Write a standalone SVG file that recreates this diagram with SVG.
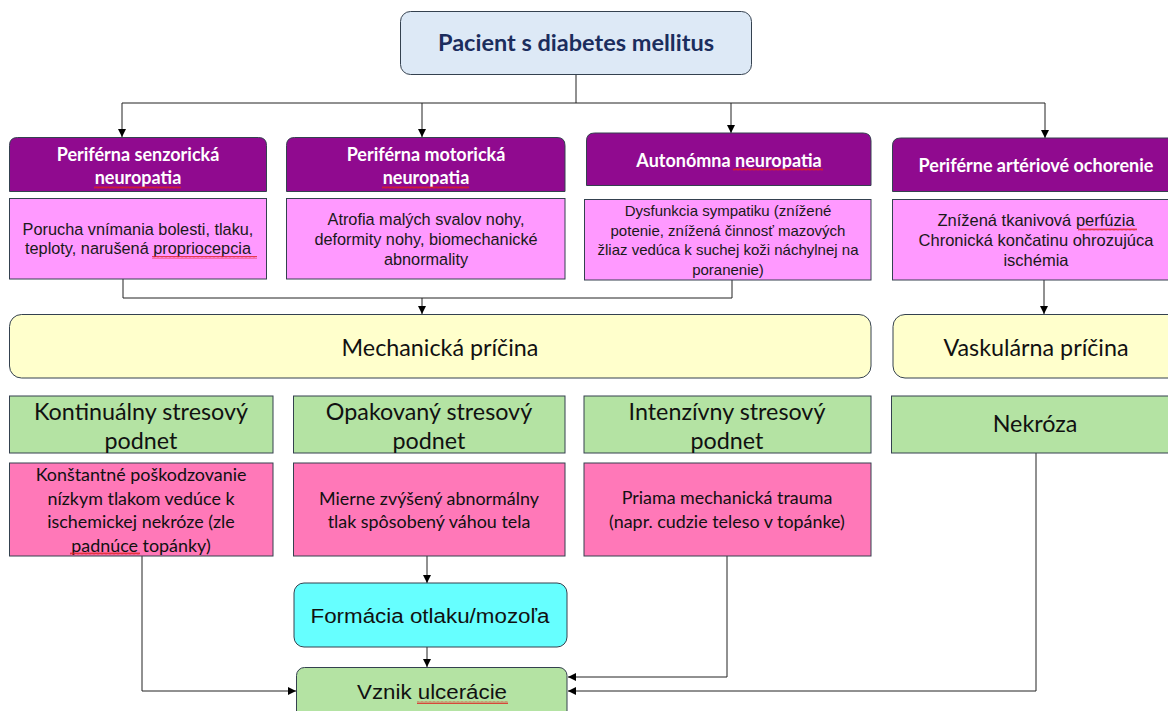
<svg xmlns="http://www.w3.org/2000/svg" width="1168" height="711" viewBox="0 0 1168 711">
<defs>
<marker id="arr" viewBox="0 0 10 10" refX="10" refY="5" markerWidth="8" markerHeight="8" markerUnits="userSpaceOnUse" orient="auto">
<path d="M0,0 L10,5 L0,10 Z" fill="#000"/>
</marker>
<pattern id="sq" x="0" y="0" width="4" height="3" patternUnits="userSpaceOnUse">
<path d="M0,2.5 L1,0.5 L2,2.5 L3,0.5 L4,2.5" fill="none" stroke="#e02020" stroke-width="0.8"/>
</pattern>
<style>
.box{stroke:#34414f;stroke-width:1}
.top{fill:#dde9f6}
.pur{fill:#900a8f}
.lp{fill:#ff99ff}
.yel{fill:#ffffcc}
.grn{fill:#b4e3a3}
.hp{fill:#ff78b8}
.cy{fill:#66ffff}
.tw{font-family:Lato,"Liberation Sans",sans-serif;font-weight:bold;font-size:18px;fill:#fff;text-anchor:middle}
.ta{font-family:"Liberation Sans",Arial,sans-serif;font-size:16.3px;fill:#1a1a1a;text-anchor:middle}
.ts{font-family:"Liberation Sans",Arial,sans-serif;font-size:15px;fill:#1a1a1a;text-anchor:middle}
.tc{font-family:Lato,"Liberation Sans",sans-serif;font-size:23.3px;fill:#111;text-anchor:middle}
.tm{font-family:Lato,"Liberation Sans",sans-serif;font-size:17.9px;fill:#111;text-anchor:middle}
.tn{font-family:"Liberation Sans",Arial,sans-serif;font-size:20px;fill:#111;text-anchor:middle}
.ln{fill:none;stroke:#222;stroke-width:1}
.sq{fill:url(#sq)}
</style>
</defs>
<rect width="1168" height="711" fill="#fff"/>

<g id="connectors">
<path class="ln" d="M576,74 V103"/>
<path class="ln" d="M122,103 H1045"/>
<path class="ln" d="M122,103 V137" marker-end="url(#arr)"/>
<path class="ln" d="M422,103 V137" marker-end="url(#arr)"/>
<path class="ln" d="M731,103 V133" marker-end="url(#arr)"/>
<path class="ln" d="M1045,103 V138" marker-end="url(#arr)"/>
<path class="ln" d="M123,279 V298 H732 V280"/>
<path class="ln" d="M422,298 V314" marker-end="url(#arr)"/>
<path class="ln" d="M1044,280 V314" marker-end="url(#arr)"/>
<path class="ln" d="M427,556 V583" marker-end="url(#arr)"/>
<path class="ln" d="M427,647 V667" marker-end="url(#arr)"/>
<path class="ln" d="M142,556 V691 H296" marker-end="url(#arr)"/>
<path class="ln" d="M727,556 V677 H568" marker-end="url(#arr)"/>
<path class="ln" d="M1036,453 V691 H568" marker-end="url(#arr)"/>
</g>

<g id="pacient">
<rect class="box top" x="400.5" y="11.5" width="351" height="63" rx="10"/>
<text x="576" y="51" style="font-family:Lato,'Liberation Sans',sans-serif;font-weight:bold;font-size:23.5px;fill:#1b2d5d;text-anchor:middle">Pacient s diabetes mellitus</text>
</g>

<g id="senzoricka">
<path class="box pur" d="M9.5,191.5 V145.5 Q9.5,137.5 17.5,137.5 H258.5 Q266.5,137.5 266.5,145.5 V191.5 Z"/>
<text class="tw" x="138" y="161">Periférna senzorická</text>
<text class="tw" x="138" y="184">neuropatia</text>
<rect class="sq" x="94" y="186" width="87" height="3"/>
</g>
<g id="senzoricka-popis">
<rect class="box lp" x="9.5" y="198.5" width="257" height="80.5"/>
<text class="ta" x="138" y="234.5">Porucha vnímania bolesti, tlaku,</text>
<text class="ta" x="138" y="253.5">teploty, narušená propriocepcia</text>
<rect class="sq" x="152" y="256" width="105" height="3"/>
</g>

<g id="motoricka">
<path class="box pur" d="M286.5,191.5 V145.5 Q286.5,137.5 294.5,137.5 H557 Q565,137.5 565,145.5 V191.5 Z"/>
<text class="tw" x="426" y="161">Periférna motorická</text>
<text class="tw" x="426" y="184">neuropatia</text>
<rect class="sq" x="382" y="186" width="87" height="3"/>
</g>
<g id="motoricka-popis">
<rect class="box lp" x="286.5" y="198.5" width="278.5" height="80.5"/>
<text class="ta" x="426" y="224.5">Atrofia malých svalov nohy,</text>
<text class="ta" x="426" y="244.5">deformity nohy, biomechanické</text>
<text class="ta" x="426" y="264.5">abnormality</text>
</g>

<g id="autonomna">
<path class="box pur" d="M586.5,185.5 V141 Q586.5,133 594.5,133 H863 Q871,133 871,141 V185.5 Z"/>
<text class="tw" x="729" y="167">Autonómna neuropatia</text>
<rect class="sq" x="733" y="168" width="90" height="3"/>
</g>
<g id="autonomna-popis">
<rect class="box lp" x="584.5" y="199.5" width="286.5" height="80.5"/>
<text class="ts" x="728" y="216">Dysfunkcia sympatiku (znížené</text>
<text class="ts" x="728" y="235.5">potenie, znížená činnosť mazových</text>
<text class="ts" x="728" y="255">žliaz vedúca k suchej koži náchylnej na</text>
<text class="ts" x="728" y="275">poranenie)</text>
</g>

<g id="arteriove">
<path class="box pur" d="M892.5,191.5 V146 Q892.5,138 900.5,138 H1180 V191.5 Z"/>
<text class="tw" x="1036" y="172">Periférne artériové ochorenie</text>
</g>
<g id="arteriove-popis">
<rect class="box lp" x="892.5" y="199.5" width="290" height="80.5"/>
<text class="ta" x="1036" y="225.5" style="font-size:16.5px">Znížená tkanivová perfúzia</text>
<text class="ta" x="1036" y="245.5" style="font-size:16.5px">Chronická končatinu ohrozujúca</text>
<text class="ta" x="1036" y="265.5" style="font-size:16.5px">ischémia</text>
<rect class="sq" x="1078" y="228" width="59" height="3"/>
</g>

<g id="mechanicka">
<rect class="box yel" x="9.5" y="314.5" width="861.5" height="63.5" rx="12"/>
<text class="tc" x="440" y="356">Mechanická príčina</text>
</g>
<g id="vaskularna">
<rect class="box yel" x="893" y="314.5" width="300" height="63.5" rx="12"/>
<text class="tc" x="1036" y="356">Vaskulárna príčina</text>
</g>

<g id="kontinualny">
<rect class="box grn" x="9.5" y="396" width="263.5" height="57"/>
<text class="tc" x="141" y="420">Kontinuálny stresový</text>
<text class="tc" x="141" y="449">podnet</text>
</g>
<g id="opakovany">
<rect class="box grn" x="293.5" y="396" width="271.5" height="57"/>
<text class="tc" x="429" y="420">Opakovaný stresový</text>
<text class="tc" x="429" y="449">podnet</text>
</g>
<g id="intenzivny">
<rect class="box grn" x="584" y="396" width="287" height="57"/>
<text class="tc" x="727" y="420">Intenzívny stresový</text>
<text class="tc" x="727" y="449">podnet</text>
</g>
<g id="nekroza">
<rect class="box grn" x="891.5" y="396" width="300" height="57"/>
<text class="tc" x="1035" y="432">Nekróza</text>
</g>

<g id="konstantne">
<rect class="box hp" x="9.5" y="463" width="263.5" height="93"/>
<text class="tm" x="141" y="481">Konštantné poškodzovanie</text>
<text class="tm" x="141" y="504.5">nízkym tlakom vedúce k</text>
<text class="tm" x="141" y="528">ischemickej nekróze (zle</text>
<text class="tm" x="141" y="551.5">padnúce topánky)</text>
<rect class="sq" x="70" y="552" width="70" height="3"/>
</g>
<g id="mierne">
<rect class="box hp" x="293.5" y="463" width="271.5" height="93"/>
<text class="tm" x="429" y="505">Mierne zvýšený abnormálny</text>
<text class="tm" x="429" y="527.5">tlak spôsobený váhou tela</text>
</g>
<g id="priama">
<rect class="box hp" x="584" y="463" width="287" height="93"/>
<text class="tm" x="727" y="504">Priama mechanická trauma</text>
<text class="tm" x="727" y="527.5">(napr. cudzie teleso v topánke)</text>
</g>

<g id="formacia">
<rect class="box cy" x="294" y="583" width="273" height="64" rx="10"/>
<text class="tn" x="430" y="623" textLength="239" lengthAdjust="spacingAndGlyphs">Formácia otlaku/mozoľa</text>
</g>

<g id="ulceracia">
<rect class="box grn" x="296.5" y="667.5" width="270.5" height="60" rx="8"/>
<text class="tn" x="432" y="699" textLength="150" lengthAdjust="spacingAndGlyphs">Vznik ulcerácie</text>
<rect class="sq" x="417" y="701" width="91" height="3"/>
</g>
</svg>
